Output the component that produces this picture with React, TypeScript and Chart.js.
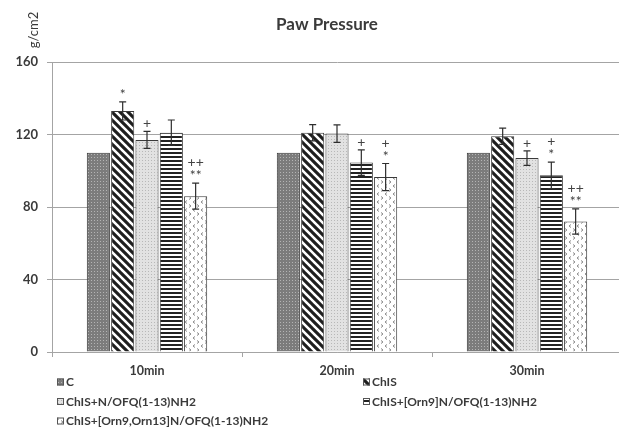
import { useEffect, useRef } from "react";
import { Chart, registerables } from "chart.js";

Chart.register(...registerables);

// Time points and groups
const categories = ["10min", "20min", "30min"];
const seriesNames = [
  "C",
  "ChIS",
  "ChIS+N/OFQ(1-13)NH2",
  "ChIS+[Orn9]N/OFQ(1-13)NH2",
  "ChIS+[Orn9,Orn13]N/OFQ(1-13)NH2",
];

// Mean paw pressure (g/cm2)
const controlValues = [110, 110, 110];
const chisValues = [133, 121, 119];
const nofqValues = [117, 120.5, 107];
const orn9Values = [121, 104.5, 97.5];
const orn913Values = [86, 96.5, 72];

// Standard errors (control has none)
const chisErrors = [5, 4.5, 4.5];
const nofqErrors = [4.7, 4.8, 4];
const orn9Errors = [7, 7, 7.3];
const orn913Errors = [7.2, 7.5, 7];

// Significance marks, listed from top line to bottom line
const chisMarks = [["*"], [], []];
const nofqMarks = [["+"], [], ["+"]];
const orn9Marks = [[], ["+"], ["+", "*"]];
const orn913Marks = [["++", "**"], ["+", "*"], ["++", "**"]];

const yTicks = [0, 40, 80, 120, 160];

const allValues = [controlValues, chisValues, nofqValues, orn9Values, orn913Values];
const allErrors: (number[] | null)[] = [null, chisErrors, nofqErrors, orn9Errors, orn913Errors];
const allMarks: string[][][] = [[[], [], []], chisMarks, nofqMarks, orn9Marks, orn913Marks];

const FONT = "Lato, 'Open Sans', sans-serif";
const TEXT = "#3a3a3a";
const GRID = "#a4a4a4";

function tile(size: [number, number], draw: (c: CanvasRenderingContext2D) => void): CanvasPattern | string {
  const cv = document.createElement("canvas");
  cv.width = size[0];
  cv.height = size[1];
  const c = cv.getContext("2d");
  if (!c) return "#999";
  draw(c);
  const ctx = document.createElement("canvas").getContext("2d");
  return (ctx && ctx.createPattern(cv, "repeat")) || "#999";
}

function makePatterns() {
  const dark = tile([3, 3], (c) => {
    c.fillStyle = "#7c7c7c";
    c.fillRect(0, 0, 3, 3);
    c.fillStyle = "#b4b4b4";
    c.fillRect(1, 1, 1, 1);
  });
  const diagonal = tile([8, 8], (c) => {
    c.fillStyle = "#ffffff";
    c.fillRect(0, 0, 8, 8);
    c.strokeStyle = "#1e1e1e";
    c.lineWidth = 3.1;
    c.beginPath();
    for (const o of [-8, 0, 8]) {
      c.moveTo(o - 1, -1);
      c.lineTo(o + 9, 9);
    }
    c.stroke();
  });
  const light = tile([3, 3], (c) => {
    c.fillStyle = "#e2e2e2";
    c.fillRect(0, 0, 3, 3);
    c.fillStyle = "#b8b8b8";
    c.fillRect(1, 1, 1, 1);
  });
  const horizontal = tile([4, 4], (c) => {
    c.fillStyle = "#ffffff";
    c.fillRect(0, 0, 4, 4);
    c.fillStyle = "#222222";
    c.fillRect(0, 0, 4, 2);
  });
  const chevrons = tile([8, 8], (c) => {
    c.fillStyle = "#ffffff";
    c.fillRect(0, 0, 8, 8);
    c.strokeStyle = "#8a8a8a";
    c.lineWidth = 1;
    c.beginPath();
    c.moveTo(3, 0.5);
    c.lineTo(1, 2);
    c.lineTo(3, 3.5);
    c.moveTo(5, 4.5);
    c.lineTo(7, 6);
    c.lineTo(5, 7.5);
    c.stroke();
  });
  return [dark, diagonal, light, horizontal, chevrons];
}

const errorBarsPlugin = {
  id: "errorBarsAndMarks",
  afterDatasetsDraw(chart: any) {
    const ctx: CanvasRenderingContext2D = chart.ctx;
    const yScale = chart.scales.y;
    chart.data.datasets.forEach((ds: any, i: number) => {
      const errs = allErrors[i];
      const meta = chart.getDatasetMeta(i);
      meta.data.forEach((bar: any, j: number) => {
        const v = ds.data[j] as number;
        let top = yScale.getPixelForValue(v);
        if (errs) {
          const e = errs[j];
          top = yScale.getPixelForValue(v + e);
          const bot = yScale.getPixelForValue(v - e);
          ctx.save();
          ctx.strokeStyle = "#2e2e2e";
          ctx.lineWidth = 1.2;
          ctx.beginPath();
          ctx.moveTo(bar.x, top);
          ctx.lineTo(bar.x, bot);
          ctx.moveTo(bar.x - 3.5, top);
          ctx.lineTo(bar.x + 3.5, top);
          ctx.moveTo(bar.x - 3.5, bot);
          ctx.lineTo(bar.x + 3.5, bot);
          ctx.stroke();
          ctx.restore();
        }
        const marks = allMarks[i][j] || [];
        ctx.save();
        ctx.fillStyle = "#444";
        ctx.font = `14px ${FONT}`;
        ctx.textAlign = "center";
        ctx.textBaseline = "alphabetic";
        const n = marks.length;
        marks.forEach((m, k) => {
          const line = n - 1 - k;
          ctx.fillText(m, bar.x, top - 3 - line * 13);
        });
        ctx.restore();
      });
    });
  },
};

const decorPlugin = {
  id: "decor",
  afterDraw(chart: any) {
    const ctx: CanvasRenderingContext2D = chart.ctx;
    ctx.save();
    // title
    ctx.fillStyle = TEXT;
    ctx.font = `bold 17px ${FONT}`;
    ctx.textAlign = "center";
    ctx.textBaseline = "middle";
    ctx.fillText("Paw Pressure", 327, 25);
    // unit label
    ctx.save();
    ctx.translate(34, 30);
    ctx.rotate(-Math.PI / 2);
    ctx.font = `13px ${FONT}`;
    ctx.fillText("g/cm2", 0, 0);
    ctx.restore();
    // legend, two columns
    const spots = [
      [57, 382],
      [363, 382],
      [57, 401.5],
      [363, 401.5],
      [57, 421],
    ];
    ctx.font = `bold 12px ${FONT}`;
    ctx.textAlign = "left";
    chart.data.datasets.forEach((ds: any, i: number) => {
      const [x, y] = spots[i];
      ctx.fillStyle = ds.backgroundColor;
      ctx.fillRect(x, y - 3.5, 7, 7);
      ctx.strokeStyle = "#555";
      ctx.lineWidth = 1;
      ctx.strokeRect(x + 0.5, y - 3, 6, 6);
      ctx.fillStyle = TEXT;
      ctx.fillText(ds.label, x + 9, y + 0.5);
    });
    ctx.restore();
  },
};

export default function App() {
  const ref = useRef<HTMLCanvasElement | null>(null);

  useEffect(() => {
    if (!ref.current) return;
    const patterns = makePatterns();
    const chart = new Chart(ref.current, {
      type: "bar",
      data: {
        labels: categories,
        datasets: seriesNames.map((name, i) => ({
          label: name,
          data: allValues[i],
          backgroundColor: patterns[i] as any,
          borderColor: "#3a3a3a",
          borderWidth: 1,
          categoryPercentage: 0.64,
          barPercentage: 0.95,
        })),
      },
      options: {
        responsive: false,
        animation: false,
        layout: { padding: { top: 62, right: 2, left: 0, bottom: 0 } },
        plugins: {
          legend: { display: false },
          title: { display: false },
          tooltip: { enabled: false },
        },
        scales: {
          x: {
            afterFit: (s: any) => {
              s.height = 78;
            },
            grid: {
              display: true,
              drawOnChartArea: false,
              drawTicks: true,
              tickLength: 5,
              color: GRID,
            },
            border: { display: true, color: GRID },
            ticks: {
              color: TEXT,
              font: { family: FONT, size: 12.5, weight: "bold" },
              padding: 6,
            },
          },
          y: {
            min: 0,
            max: 160,
            afterFit: (s: any) => {
              s.width = 52;
            },
            afterBuildTicks: (s: any) => {
              s.ticks = yTicks.map((v) => ({ value: v }));
            },
            grid: { color: GRID, tickLength: 5, drawTicks: true },
            border: { display: true, color: GRID },
            ticks: {
              color: TEXT,
              font: { family: FONT, size: 13, weight: "bold" },
              padding: 9,
            },
          },
        },
      },
      plugins: [errorBarsPlugin, decorPlugin],
    });
    return () => chart.destroy();
  }, []);

  return (
    <div
      style={{
        position: "fixed",
        left: 0,
        top: 0,
        width: 619,
        height: 430,
        overflow: "hidden",
        background: "#ffffff",
      }}
    >
      <canvas ref={ref} width={624} height={430} style={{ width: 624, height: 430, display: "block" }} />
    </div>
  );
}
